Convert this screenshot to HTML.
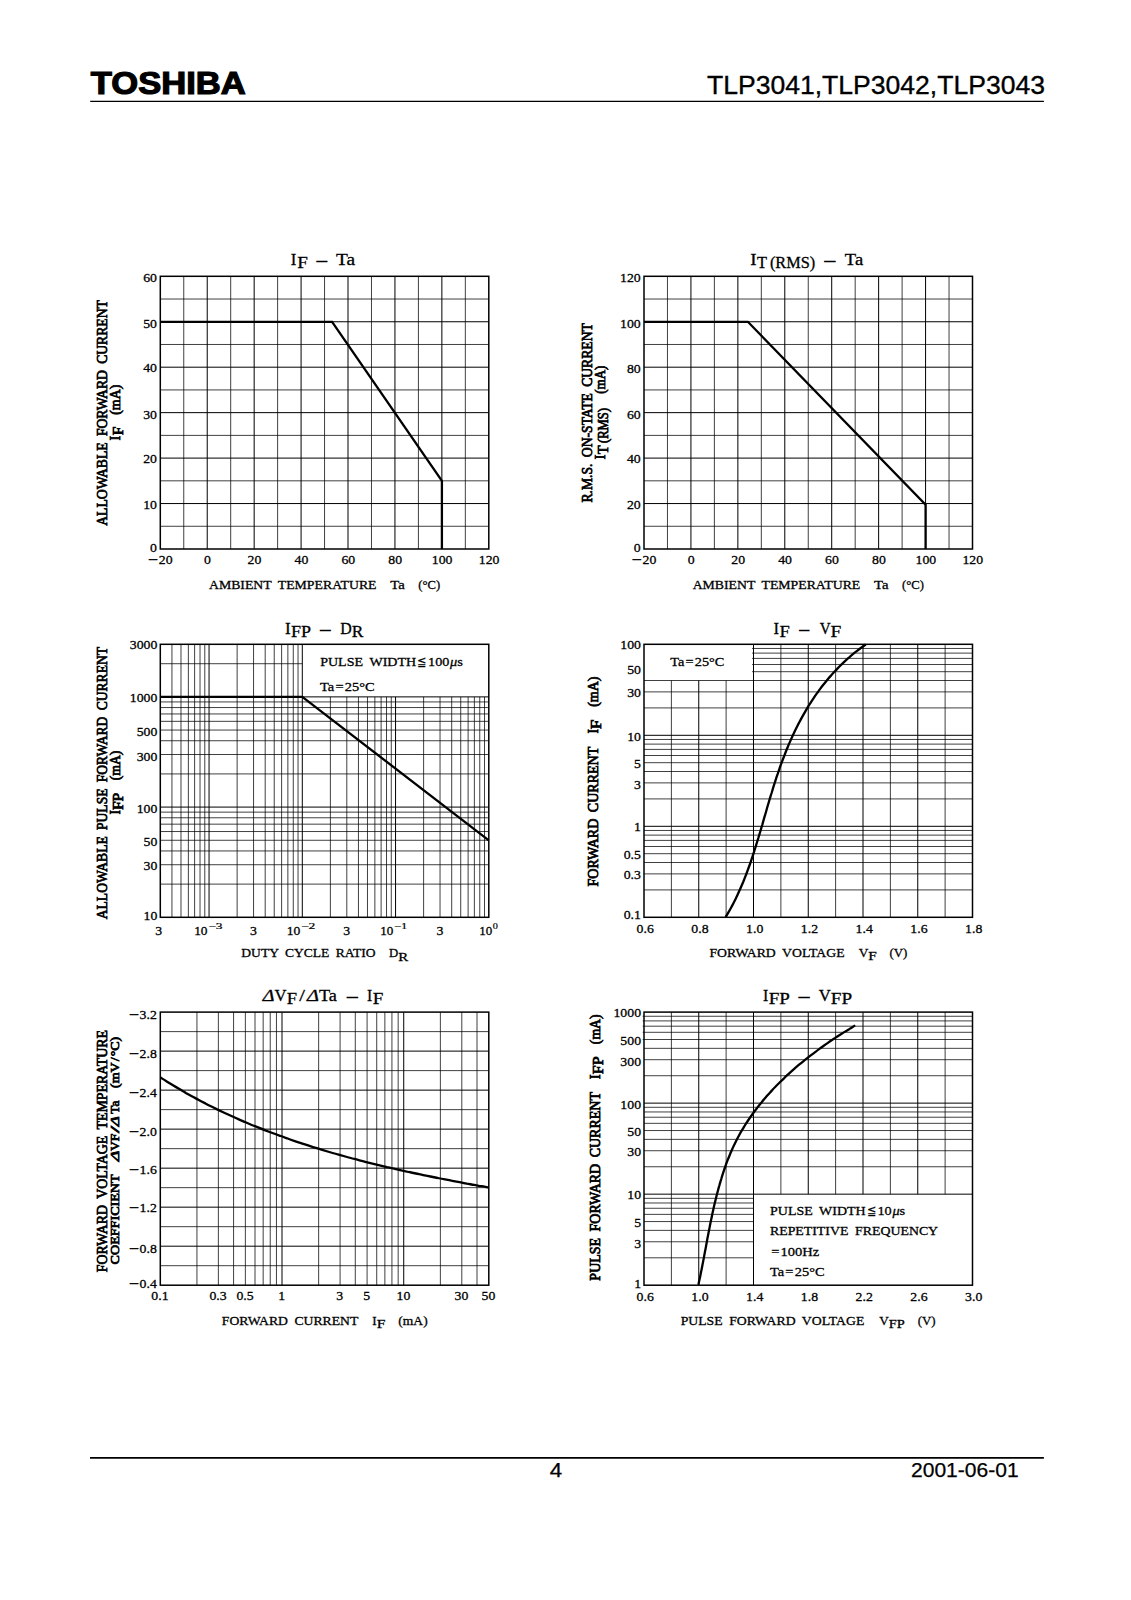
<!DOCTYPE html>
<html><head><meta charset="utf-8"><title>TLP3041,TLP3042,TLP3043</title>
<style>html,body{margin:0;padding:0;background:#fff}svg{display:block}text{fill:#000}</style></head>
<body><svg width="1131" height="1600" viewBox="0 0 1131 1600">
<rect width="1131" height="1600" fill="#fff"/>
<text x="90.80" y="93.65" font-family='"Liberation Sans", sans-serif' font-size="31.2" font-weight="bold" stroke="#000" stroke-width="1.2" textLength="155.00" lengthAdjust="spacingAndGlyphs">TOSHIBA</text>
<text x="707.00" y="93.80" font-family='"Liberation Sans", sans-serif' font-size="26.6" stroke="#000" stroke-width="0.35" textLength="338.00" lengthAdjust="spacingAndGlyphs">TLP3041,TLP3042,TLP3043</text>
<line x1="90.20" y1="101.30" x2="1043.90" y2="101.30" stroke="#000" stroke-width="1.3"/>
<line x1="90.00" y1="1457.80" x2="1043.90" y2="1457.80" stroke="#000" stroke-width="1.7"/>
<text x="549.80" y="1476.80" font-family='"Liberation Sans", sans-serif' font-size="20" stroke="#000" stroke-width="0.25" textLength="12.40" lengthAdjust="spacingAndGlyphs">4</text>
<text x="911.00" y="1476.80" font-family='"Liberation Sans", sans-serif' font-size="20" stroke="#000" stroke-width="0.25" textLength="107.60" lengthAdjust="spacingAndGlyphs">2001-06-01</text>
<line x1="183.76" y1="276.30" x2="183.76" y2="549.00" stroke="#000" stroke-width="0.75"/>
<line x1="207.23" y1="276.30" x2="207.23" y2="549.00" stroke="#000" stroke-width="1.0"/>
<line x1="230.69" y1="276.30" x2="230.69" y2="549.00" stroke="#000" stroke-width="0.75"/>
<line x1="254.16" y1="276.30" x2="254.16" y2="549.00" stroke="#000" stroke-width="1.0"/>
<line x1="277.62" y1="276.30" x2="277.62" y2="549.00" stroke="#000" stroke-width="0.75"/>
<line x1="301.09" y1="276.30" x2="301.09" y2="549.00" stroke="#000" stroke-width="1.0"/>
<line x1="324.55" y1="276.30" x2="324.55" y2="549.00" stroke="#000" stroke-width="0.75"/>
<line x1="348.01" y1="276.30" x2="348.01" y2="549.00" stroke="#000" stroke-width="1.0"/>
<line x1="371.48" y1="276.30" x2="371.48" y2="549.00" stroke="#000" stroke-width="0.75"/>
<line x1="394.94" y1="276.30" x2="394.94" y2="549.00" stroke="#000" stroke-width="1.0"/>
<line x1="418.41" y1="276.30" x2="418.41" y2="549.00" stroke="#000" stroke-width="0.75"/>
<line x1="441.87" y1="276.30" x2="441.87" y2="549.00" stroke="#000" stroke-width="1.0"/>
<line x1="465.34" y1="276.30" x2="465.34" y2="549.00" stroke="#000" stroke-width="0.75"/>
<line x1="160.30" y1="526.27" x2="488.80" y2="526.27" stroke="#000" stroke-width="0.75"/>
<line x1="160.30" y1="503.55" x2="488.80" y2="503.55" stroke="#000" stroke-width="1.0"/>
<line x1="160.30" y1="480.82" x2="488.80" y2="480.82" stroke="#000" stroke-width="0.75"/>
<line x1="160.30" y1="458.10" x2="488.80" y2="458.10" stroke="#000" stroke-width="1.0"/>
<line x1="160.30" y1="435.38" x2="488.80" y2="435.38" stroke="#000" stroke-width="0.75"/>
<line x1="160.30" y1="412.65" x2="488.80" y2="412.65" stroke="#000" stroke-width="1.0"/>
<line x1="160.30" y1="389.93" x2="488.80" y2="389.93" stroke="#000" stroke-width="0.75"/>
<line x1="160.30" y1="367.20" x2="488.80" y2="367.20" stroke="#000" stroke-width="1.0"/>
<line x1="160.30" y1="344.48" x2="488.80" y2="344.48" stroke="#000" stroke-width="0.75"/>
<line x1="160.30" y1="321.75" x2="488.80" y2="321.75" stroke="#000" stroke-width="1.0"/>
<line x1="160.30" y1="299.02" x2="488.80" y2="299.02" stroke="#000" stroke-width="0.75"/>
<rect x="160.30" y="276.30" width="328.50" height="272.70" fill="none" stroke="#000" stroke-width="1.5"/>
<polyline fill="none" stroke="#000" stroke-width="2.3" stroke-linejoin="miter" points="160.3,321.8 332.1,321.8 441.9,480.8 441.9,549.0"/>
<text x="143.16" y="282.35" font-family='"Liberation Serif", serif' font-size="13.2" stroke="#000" stroke-width="0.3" textLength="13.79" lengthAdjust="spacingAndGlyphs">60</text>
<text x="143.16" y="327.80" font-family='"Liberation Serif", serif' font-size="13.2" stroke="#000" stroke-width="0.3" textLength="13.79" lengthAdjust="spacingAndGlyphs">50</text>
<text x="143.16" y="371.95" font-family='"Liberation Serif", serif' font-size="13.2" stroke="#000" stroke-width="0.3" textLength="13.79" lengthAdjust="spacingAndGlyphs">40</text>
<text x="143.16" y="418.50" font-family='"Liberation Serif", serif' font-size="13.2" stroke="#000" stroke-width="0.3" textLength="13.79" lengthAdjust="spacingAndGlyphs">30</text>
<text x="143.16" y="463.45" font-family='"Liberation Serif", serif' font-size="13.2" stroke="#000" stroke-width="0.3" textLength="13.79" lengthAdjust="spacingAndGlyphs">20</text>
<text x="143.16" y="508.60" font-family='"Liberation Serif", serif' font-size="13.2" stroke="#000" stroke-width="0.3" textLength="13.79" lengthAdjust="spacingAndGlyphs">10</text>
<text x="150.05" y="552.05" font-family='"Liberation Serif", serif' font-size="13.2" stroke="#000" stroke-width="0.3" textLength="6.90" lengthAdjust="spacingAndGlyphs">0</text>
<text x="148.09" y="563.60" font-family='"Liberation Serif", serif' font-size="13.2" stroke="#000" stroke-width="0.55" textLength="9.72" lengthAdjust="spacingAndGlyphs">−</text>
<text x="158.80" y="563.60" font-family='"Liberation Serif", serif' font-size="13.2" stroke="#000" stroke-width="0.3" textLength="13.79" lengthAdjust="spacingAndGlyphs">20</text>
<text x="204.08" y="563.60" font-family='"Liberation Serif", serif' font-size="13.2" stroke="#000" stroke-width="0.3" textLength="6.90" lengthAdjust="spacingAndGlyphs">0</text>
<text x="247.56" y="563.60" font-family='"Liberation Serif", serif' font-size="13.2" stroke="#000" stroke-width="0.3" textLength="13.79" lengthAdjust="spacingAndGlyphs">20</text>
<text x="294.49" y="563.60" font-family='"Liberation Serif", serif' font-size="13.2" stroke="#000" stroke-width="0.3" textLength="13.79" lengthAdjust="spacingAndGlyphs">40</text>
<text x="341.42" y="563.60" font-family='"Liberation Serif", serif' font-size="13.2" stroke="#000" stroke-width="0.3" textLength="13.79" lengthAdjust="spacingAndGlyphs">60</text>
<text x="388.35" y="563.60" font-family='"Liberation Serif", serif' font-size="13.2" stroke="#000" stroke-width="0.3" textLength="13.79" lengthAdjust="spacingAndGlyphs">80</text>
<text x="431.83" y="563.60" font-family='"Liberation Serif", serif' font-size="13.2" stroke="#000" stroke-width="0.3" textLength="20.69" lengthAdjust="spacingAndGlyphs">100</text>
<text x="478.75" y="563.60" font-family='"Liberation Serif", serif' font-size="13.2" stroke="#000" stroke-width="0.3" textLength="20.69" lengthAdjust="spacingAndGlyphs">120</text>
<text x="290.85" y="264.90" font-family='"Liberation Serif", serif' font-size="16.6" stroke="#000" stroke-width="0.3" textLength="5.60" lengthAdjust="spacingAndGlyphs">I</text>
<text x="297.15" y="267.90" font-family='"Liberation Serif", serif' font-size="16.6" stroke="#000" stroke-width="0.3" textLength="10.60" lengthAdjust="spacingAndGlyphs">F</text>
<text x="315.60" y="266.82" font-family='"Liberation Serif", serif' font-size="16.6" stroke="#000" stroke-width="0.65" textLength="12.40" lengthAdjust="spacingAndGlyphs">−</text>
<text x="336.05" y="264.90" font-family='"Liberation Serif", serif' font-size="16.6" stroke="#000" stroke-width="0.3" textLength="19.10" lengthAdjust="spacingAndGlyphs">Ta</text>
<text x="208.95" y="588.70" font-family='"Liberation Serif", serif' font-size="13.2" stroke="#000" stroke-width="0.3" style="word-spacing:3.00px" textLength="167.60" lengthAdjust="spacingAndGlyphs">AMBIENT TEMPERATURE</text>
<text x="390.35" y="588.70" font-family='"Liberation Serif", serif' font-size="13.2" stroke="#000" stroke-width="0.3" textLength="14.50" lengthAdjust="spacingAndGlyphs">Ta</text>
<text x="418.35" y="588.70" font-family='"Liberation Serif", serif' font-size="13.2" stroke="#000" stroke-width="0.3" textLength="21.90" lengthAdjust="spacingAndGlyphs">(°C)</text>
<text x="0.00" y="0" transform="translate(107.20,525.75) rotate(-90)" font-family='"Liberation Serif", serif' font-size="14.3" stroke="#000" stroke-width="0.75" style="word-spacing:3.00px" textLength="225.60" lengthAdjust="spacingAndGlyphs">ALLOWABLE FORWARD CURRENT</text>
<text x="0.00" y="0" transform="translate(119.60,440.45) rotate(-90)" font-family='"Liberation Serif", serif' font-size="14.3" stroke="#000" stroke-width="0.75" textLength="4.60" lengthAdjust="spacingAndGlyphs">I</text>
<text x="0.00" y="0" transform="translate(122.80,435.35) rotate(-90)" font-family='"Liberation Serif", serif' font-size="14.3" stroke="#000" stroke-width="0.75" textLength="8.70" lengthAdjust="spacingAndGlyphs">F</text>
<text x="0.00" y="0" transform="translate(119.60,414.75) rotate(-90)" font-family='"Liberation Serif", serif' font-size="14.3" stroke="#000" stroke-width="0.75" textLength="30.00" lengthAdjust="spacingAndGlyphs">(mA)</text>
<line x1="667.46" y1="276.30" x2="667.46" y2="549.00" stroke="#000" stroke-width="0.75"/>
<line x1="690.93" y1="276.30" x2="690.93" y2="549.00" stroke="#000" stroke-width="1.0"/>
<line x1="714.39" y1="276.30" x2="714.39" y2="549.00" stroke="#000" stroke-width="0.75"/>
<line x1="737.86" y1="276.30" x2="737.86" y2="549.00" stroke="#000" stroke-width="1.0"/>
<line x1="761.32" y1="276.30" x2="761.32" y2="549.00" stroke="#000" stroke-width="0.75"/>
<line x1="784.79" y1="276.30" x2="784.79" y2="549.00" stroke="#000" stroke-width="1.0"/>
<line x1="808.25" y1="276.30" x2="808.25" y2="549.00" stroke="#000" stroke-width="0.75"/>
<line x1="831.71" y1="276.30" x2="831.71" y2="549.00" stroke="#000" stroke-width="1.0"/>
<line x1="855.18" y1="276.30" x2="855.18" y2="549.00" stroke="#000" stroke-width="0.75"/>
<line x1="878.64" y1="276.30" x2="878.64" y2="549.00" stroke="#000" stroke-width="1.0"/>
<line x1="902.11" y1="276.30" x2="902.11" y2="549.00" stroke="#000" stroke-width="0.75"/>
<line x1="925.57" y1="276.30" x2="925.57" y2="549.00" stroke="#000" stroke-width="1.0"/>
<line x1="949.04" y1="276.30" x2="949.04" y2="549.00" stroke="#000" stroke-width="0.75"/>
<line x1="644.00" y1="526.27" x2="972.50" y2="526.27" stroke="#000" stroke-width="0.75"/>
<line x1="644.00" y1="503.55" x2="972.50" y2="503.55" stroke="#000" stroke-width="1.0"/>
<line x1="644.00" y1="480.82" x2="972.50" y2="480.82" stroke="#000" stroke-width="0.75"/>
<line x1="644.00" y1="458.10" x2="972.50" y2="458.10" stroke="#000" stroke-width="1.0"/>
<line x1="644.00" y1="435.38" x2="972.50" y2="435.38" stroke="#000" stroke-width="0.75"/>
<line x1="644.00" y1="412.65" x2="972.50" y2="412.65" stroke="#000" stroke-width="1.0"/>
<line x1="644.00" y1="389.93" x2="972.50" y2="389.93" stroke="#000" stroke-width="0.75"/>
<line x1="644.00" y1="367.20" x2="972.50" y2="367.20" stroke="#000" stroke-width="1.0"/>
<line x1="644.00" y1="344.48" x2="972.50" y2="344.48" stroke="#000" stroke-width="0.75"/>
<line x1="644.00" y1="321.75" x2="972.50" y2="321.75" stroke="#000" stroke-width="1.0"/>
<line x1="644.00" y1="299.02" x2="972.50" y2="299.02" stroke="#000" stroke-width="0.75"/>
<rect x="644.00" y="276.30" width="328.50" height="272.70" fill="none" stroke="#000" stroke-width="1.5"/>
<polyline fill="none" stroke="#000" stroke-width="2.3" stroke-linejoin="miter" points="644.0,321.8 747.9,321.8 925.6,504.7 925.6,549.0"/>
<text x="620.06" y="282.35" font-family='"Liberation Serif", serif' font-size="13.2" stroke="#000" stroke-width="0.3" textLength="20.69" lengthAdjust="spacingAndGlyphs">120</text>
<text x="620.06" y="327.60" font-family='"Liberation Serif", serif' font-size="13.2" stroke="#000" stroke-width="0.3" textLength="20.69" lengthAdjust="spacingAndGlyphs">100</text>
<text x="626.96" y="373.25" font-family='"Liberation Serif", serif' font-size="13.2" stroke="#000" stroke-width="0.3" textLength="13.79" lengthAdjust="spacingAndGlyphs">80</text>
<text x="626.96" y="418.50" font-family='"Liberation Serif", serif' font-size="13.2" stroke="#000" stroke-width="0.3" textLength="13.79" lengthAdjust="spacingAndGlyphs">60</text>
<text x="626.96" y="463.45" font-family='"Liberation Serif", serif' font-size="13.2" stroke="#000" stroke-width="0.3" textLength="13.79" lengthAdjust="spacingAndGlyphs">40</text>
<text x="626.96" y="508.60" font-family='"Liberation Serif", serif' font-size="13.2" stroke="#000" stroke-width="0.3" textLength="13.79" lengthAdjust="spacingAndGlyphs">20</text>
<text x="633.85" y="552.05" font-family='"Liberation Serif", serif' font-size="13.2" stroke="#000" stroke-width="0.3" textLength="6.90" lengthAdjust="spacingAndGlyphs">0</text>
<text x="631.79" y="563.60" font-family='"Liberation Serif", serif' font-size="13.2" stroke="#000" stroke-width="0.55" textLength="9.72" lengthAdjust="spacingAndGlyphs">−</text>
<text x="642.50" y="563.60" font-family='"Liberation Serif", serif' font-size="13.2" stroke="#000" stroke-width="0.3" textLength="13.79" lengthAdjust="spacingAndGlyphs">20</text>
<text x="687.78" y="563.60" font-family='"Liberation Serif", serif' font-size="13.2" stroke="#000" stroke-width="0.3" textLength="6.90" lengthAdjust="spacingAndGlyphs">0</text>
<text x="731.26" y="563.60" font-family='"Liberation Serif", serif' font-size="13.2" stroke="#000" stroke-width="0.3" textLength="13.79" lengthAdjust="spacingAndGlyphs">20</text>
<text x="778.19" y="563.60" font-family='"Liberation Serif", serif' font-size="13.2" stroke="#000" stroke-width="0.3" textLength="13.79" lengthAdjust="spacingAndGlyphs">40</text>
<text x="825.12" y="563.60" font-family='"Liberation Serif", serif' font-size="13.2" stroke="#000" stroke-width="0.3" textLength="13.79" lengthAdjust="spacingAndGlyphs">60</text>
<text x="872.05" y="563.60" font-family='"Liberation Serif", serif' font-size="13.2" stroke="#000" stroke-width="0.3" textLength="13.79" lengthAdjust="spacingAndGlyphs">80</text>
<text x="915.53" y="563.60" font-family='"Liberation Serif", serif' font-size="13.2" stroke="#000" stroke-width="0.3" textLength="20.69" lengthAdjust="spacingAndGlyphs">100</text>
<text x="962.45" y="563.60" font-family='"Liberation Serif", serif' font-size="13.2" stroke="#000" stroke-width="0.3" textLength="20.69" lengthAdjust="spacingAndGlyphs">120</text>
<text x="750.15" y="264.80" font-family='"Liberation Serif", serif' font-size="16.6" stroke="#000" stroke-width="0.3" textLength="6.30" lengthAdjust="spacingAndGlyphs">I</text>
<text x="756.95" y="267.90" font-family='"Liberation Serif", serif' font-size="16.6" stroke="#000" stroke-width="0.3" textLength="10.00" lengthAdjust="spacingAndGlyphs">T</text>
<text x="769.95" y="267.90" font-family='"Liberation Serif", serif' font-size="16.6" stroke="#000" stroke-width="0.3" textLength="45.30" lengthAdjust="spacingAndGlyphs">(RMS)</text>
<text x="823.36" y="266.72" font-family='"Liberation Serif", serif' font-size="16.6" stroke="#000" stroke-width="0.65" textLength="12.88" lengthAdjust="spacingAndGlyphs">−</text>
<text x="844.85" y="264.80" font-family='"Liberation Serif", serif' font-size="16.6" stroke="#000" stroke-width="0.3" textLength="18.30" lengthAdjust="spacingAndGlyphs">Ta</text>
<text x="692.65" y="588.70" font-family='"Liberation Serif", serif' font-size="13.2" stroke="#000" stroke-width="0.3" style="word-spacing:3.00px" textLength="167.60" lengthAdjust="spacingAndGlyphs">AMBIENT TEMPERATURE</text>
<text x="874.05" y="588.70" font-family='"Liberation Serif", serif' font-size="13.2" stroke="#000" stroke-width="0.3" textLength="14.50" lengthAdjust="spacingAndGlyphs">Ta</text>
<text x="902.05" y="588.70" font-family='"Liberation Serif", serif' font-size="13.2" stroke="#000" stroke-width="0.3" textLength="21.90" lengthAdjust="spacingAndGlyphs">(°C)</text>
<text x="0.00" y="0" transform="translate(592.10,502.55) rotate(-90)" font-family='"Liberation Serif", serif' font-size="14.3" stroke="#000" stroke-width="0.75" style="word-spacing:3.00px" textLength="179.40" lengthAdjust="spacingAndGlyphs">R.M.S. ON-STATE CURRENT</text>
<text x="0.00" y="0" transform="translate(604.60,459.45) rotate(-90)" font-family='"Liberation Serif", serif' font-size="14.3" stroke="#000" stroke-width="0.75" textLength="4.90" lengthAdjust="spacingAndGlyphs">I</text>
<text x="0.00" y="0" transform="translate(607.70,454.25) rotate(-90)" font-family='"Liberation Serif", serif' font-size="14.3" stroke="#000" stroke-width="0.75" textLength="8.90" lengthAdjust="spacingAndGlyphs">T</text>
<text x="0.00" y="0" transform="translate(607.70,443.05) rotate(-90)" font-family='"Liberation Serif", serif' font-size="14.3" stroke="#000" stroke-width="0.75" textLength="35.10" lengthAdjust="spacingAndGlyphs">(RMS)</text>
<text x="0.00" y="0" transform="translate(604.60,393.85) rotate(-90)" font-family='"Liberation Serif", serif' font-size="14.3" stroke="#000" stroke-width="0.75" textLength="28.30" lengthAdjust="spacingAndGlyphs">(mA)</text>
<line x1="171.95" y1="644.30" x2="171.95" y2="917.30" stroke="#000" stroke-width="0.75"/>
<line x1="180.99" y1="644.30" x2="180.99" y2="917.30" stroke="#000" stroke-width="0.75"/>
<line x1="188.37" y1="644.30" x2="188.37" y2="917.30" stroke="#000" stroke-width="0.75"/>
<line x1="194.61" y1="644.30" x2="194.61" y2="917.30" stroke="#000" stroke-width="0.75"/>
<line x1="200.02" y1="644.30" x2="200.02" y2="917.30" stroke="#000" stroke-width="0.75"/>
<line x1="204.79" y1="644.30" x2="204.79" y2="917.30" stroke="#000" stroke-width="0.75"/>
<line x1="209.06" y1="644.30" x2="209.06" y2="917.30" stroke="#000" stroke-width="1.0"/>
<line x1="237.13" y1="644.30" x2="237.13" y2="917.30" stroke="#000" stroke-width="0.75"/>
<line x1="253.55" y1="644.30" x2="253.55" y2="917.30" stroke="#000" stroke-width="0.75"/>
<line x1="265.20" y1="644.30" x2="265.20" y2="917.30" stroke="#000" stroke-width="0.75"/>
<line x1="274.23" y1="644.30" x2="274.23" y2="917.30" stroke="#000" stroke-width="0.75"/>
<line x1="281.62" y1="644.30" x2="281.62" y2="917.30" stroke="#000" stroke-width="0.75"/>
<line x1="287.86" y1="644.30" x2="287.86" y2="917.30" stroke="#000" stroke-width="0.75"/>
<line x1="293.27" y1="644.30" x2="293.27" y2="917.30" stroke="#000" stroke-width="0.75"/>
<line x1="298.04" y1="644.30" x2="298.04" y2="917.30" stroke="#000" stroke-width="0.75"/>
<line x1="302.30" y1="644.30" x2="302.30" y2="917.30" stroke="#000" stroke-width="1.0"/>
<line x1="330.38" y1="696.88" x2="330.38" y2="917.30" stroke="#000" stroke-width="0.75"/>
<line x1="346.80" y1="696.88" x2="346.80" y2="917.30" stroke="#000" stroke-width="0.75"/>
<line x1="358.45" y1="696.88" x2="358.45" y2="917.30" stroke="#000" stroke-width="0.75"/>
<line x1="367.48" y1="696.88" x2="367.48" y2="917.30" stroke="#000" stroke-width="0.75"/>
<line x1="374.87" y1="696.88" x2="374.87" y2="917.30" stroke="#000" stroke-width="0.75"/>
<line x1="381.11" y1="696.88" x2="381.11" y2="917.30" stroke="#000" stroke-width="0.75"/>
<line x1="386.52" y1="696.88" x2="386.52" y2="917.30" stroke="#000" stroke-width="0.75"/>
<line x1="391.29" y1="696.88" x2="391.29" y2="917.30" stroke="#000" stroke-width="0.75"/>
<line x1="395.55" y1="696.88" x2="395.55" y2="917.30" stroke="#000" stroke-width="1.0"/>
<line x1="423.62" y1="696.88" x2="423.62" y2="917.30" stroke="#000" stroke-width="0.75"/>
<line x1="440.04" y1="696.88" x2="440.04" y2="917.30" stroke="#000" stroke-width="0.75"/>
<line x1="451.69" y1="696.88" x2="451.69" y2="917.30" stroke="#000" stroke-width="0.75"/>
<line x1="460.73" y1="696.88" x2="460.73" y2="917.30" stroke="#000" stroke-width="0.75"/>
<line x1="468.11" y1="696.88" x2="468.11" y2="917.30" stroke="#000" stroke-width="0.75"/>
<line x1="474.36" y1="696.88" x2="474.36" y2="917.30" stroke="#000" stroke-width="0.75"/>
<line x1="479.76" y1="696.88" x2="479.76" y2="917.30" stroke="#000" stroke-width="0.75"/>
<line x1="484.53" y1="696.88" x2="484.53" y2="917.30" stroke="#000" stroke-width="0.75"/>
<line x1="160.30" y1="884.12" x2="488.80" y2="884.12" stroke="#000" stroke-width="0.75"/>
<line x1="160.30" y1="864.72" x2="488.80" y2="864.72" stroke="#000" stroke-width="0.75"/>
<line x1="160.30" y1="850.95" x2="488.80" y2="850.95" stroke="#000" stroke-width="0.75"/>
<line x1="160.30" y1="840.27" x2="488.80" y2="840.27" stroke="#000" stroke-width="0.75"/>
<line x1="160.30" y1="831.54" x2="488.80" y2="831.54" stroke="#000" stroke-width="0.75"/>
<line x1="160.30" y1="824.16" x2="488.80" y2="824.16" stroke="#000" stroke-width="0.75"/>
<line x1="160.30" y1="817.77" x2="488.80" y2="817.77" stroke="#000" stroke-width="0.75"/>
<line x1="160.30" y1="812.13" x2="488.80" y2="812.13" stroke="#000" stroke-width="0.75"/>
<line x1="160.30" y1="807.09" x2="488.80" y2="807.09" stroke="#000" stroke-width="1.0"/>
<line x1="160.30" y1="773.92" x2="488.80" y2="773.92" stroke="#000" stroke-width="0.75"/>
<line x1="160.30" y1="754.51" x2="488.80" y2="754.51" stroke="#000" stroke-width="0.75"/>
<line x1="160.30" y1="740.74" x2="488.80" y2="740.74" stroke="#000" stroke-width="0.75"/>
<line x1="160.30" y1="730.06" x2="488.80" y2="730.06" stroke="#000" stroke-width="0.75"/>
<line x1="160.30" y1="721.33" x2="488.80" y2="721.33" stroke="#000" stroke-width="0.75"/>
<line x1="160.30" y1="713.95" x2="488.80" y2="713.95" stroke="#000" stroke-width="0.75"/>
<line x1="160.30" y1="707.56" x2="488.80" y2="707.56" stroke="#000" stroke-width="0.75"/>
<line x1="160.30" y1="701.93" x2="488.80" y2="701.93" stroke="#000" stroke-width="0.75"/>
<line x1="160.30" y1="696.88" x2="488.80" y2="696.88" stroke="#000" stroke-width="1.0"/>
<line x1="160.30" y1="663.71" x2="302.30" y2="663.71" stroke="#000" stroke-width="0.75"/>
<rect x="160.30" y="644.30" width="328.50" height="273.00" fill="none" stroke="#000" stroke-width="1.5"/>
<polyline fill="none" stroke="#000" stroke-width="2.3" stroke-linejoin="miter" points="160.3,696.9 302.3,696.9 488.8,840.3"/>
<text x="129.76" y="649.45" font-family='"Liberation Serif", serif' font-size="13.2" stroke="#000" stroke-width="0.3" textLength="27.59" lengthAdjust="spacingAndGlyphs">3000</text>
<text x="129.76" y="702.43" font-family='"Liberation Serif", serif' font-size="13.2" stroke="#000" stroke-width="0.3" textLength="27.59" lengthAdjust="spacingAndGlyphs">1000</text>
<text x="136.66" y="736.41" font-family='"Liberation Serif", serif' font-size="13.2" stroke="#000" stroke-width="0.3" textLength="20.69" lengthAdjust="spacingAndGlyphs">500</text>
<text x="136.66" y="760.56" font-family='"Liberation Serif", serif' font-size="13.2" stroke="#000" stroke-width="0.3" textLength="20.69" lengthAdjust="spacingAndGlyphs">300</text>
<text x="136.66" y="812.64" font-family='"Liberation Serif", serif' font-size="13.2" stroke="#000" stroke-width="0.3" textLength="20.69" lengthAdjust="spacingAndGlyphs">100</text>
<text x="143.56" y="845.82" font-family='"Liberation Serif", serif' font-size="13.2" stroke="#000" stroke-width="0.3" textLength="13.79" lengthAdjust="spacingAndGlyphs">50</text>
<text x="143.56" y="870.07" font-family='"Liberation Serif", serif' font-size="13.2" stroke="#000" stroke-width="0.3" textLength="13.79" lengthAdjust="spacingAndGlyphs">30</text>
<text x="143.56" y="919.55" font-family='"Liberation Serif", serif' font-size="13.2" stroke="#000" stroke-width="0.3" textLength="13.79" lengthAdjust="spacingAndGlyphs">10</text>
<text x="155.25" y="934.50" font-family='"Liberation Serif", serif' font-size="13.2" stroke="#000" stroke-width="0.3" textLength="6.90" lengthAdjust="spacingAndGlyphs">3</text>
<text x="250.10" y="934.50" font-family='"Liberation Serif", serif' font-size="13.2" stroke="#000" stroke-width="0.3" textLength="6.90" lengthAdjust="spacingAndGlyphs">3</text>
<text x="343.35" y="934.50" font-family='"Liberation Serif", serif' font-size="13.2" stroke="#000" stroke-width="0.3" textLength="6.90" lengthAdjust="spacingAndGlyphs">3</text>
<text x="436.59" y="934.50" font-family='"Liberation Serif", serif' font-size="13.2" stroke="#000" stroke-width="0.3" textLength="6.90" lengthAdjust="spacingAndGlyphs">3</text>
<text x="194.15" y="934.50" font-family='"Liberation Serif", serif' font-size="13.2" stroke="#000" stroke-width="0.3" textLength="13.40" lengthAdjust="spacingAndGlyphs">10</text>
<text x="208.25" y="928.90" font-family='"Liberation Serif", serif' font-size="9.0" stroke="#000" stroke-width="0.2" textLength="14.30" lengthAdjust="spacingAndGlyphs">−3</text>
<text x="286.75" y="934.50" font-family='"Liberation Serif", serif' font-size="13.2" stroke="#000" stroke-width="0.3" textLength="13.60" lengthAdjust="spacingAndGlyphs">10</text>
<text x="300.95" y="928.90" font-family='"Liberation Serif", serif' font-size="9.0" stroke="#000" stroke-width="0.2" textLength="14.50" lengthAdjust="spacingAndGlyphs">−2</text>
<text x="380.15" y="934.50" font-family='"Liberation Serif", serif' font-size="13.2" stroke="#000" stroke-width="0.3" textLength="13.10" lengthAdjust="spacingAndGlyphs">10</text>
<text x="393.95" y="928.90" font-family='"Liberation Serif", serif' font-size="9.0" stroke="#000" stroke-width="0.2" textLength="13.40" lengthAdjust="spacingAndGlyphs">−1</text>
<text x="479.35" y="934.50" font-family='"Liberation Serif", serif' font-size="13.2" stroke="#000" stroke-width="0.3" textLength="13.00" lengthAdjust="spacingAndGlyphs">10</text>
<text x="492.65" y="928.90" font-family='"Liberation Serif", serif' font-size="9.0" stroke="#000" stroke-width="0.2" textLength="5.10" lengthAdjust="spacingAndGlyphs">0</text>
<text x="284.95" y="633.70" font-family='"Liberation Serif", serif' font-size="16.6" stroke="#000" stroke-width="0.3" textLength="5.70" lengthAdjust="spacingAndGlyphs">I</text>
<text x="291.05" y="636.80" font-family='"Liberation Serif", serif' font-size="16.6" stroke="#000" stroke-width="0.3" textLength="20.00" lengthAdjust="spacingAndGlyphs">FP</text>
<text x="319.10" y="636.42" font-family='"Liberation Serif", serif' font-size="16.6" stroke="#000" stroke-width="0.65" textLength="12.40" lengthAdjust="spacingAndGlyphs">−</text>
<text x="340.25" y="633.70" font-family='"Liberation Serif", serif' font-size="16.6" stroke="#000" stroke-width="0.3" textLength="11.50" lengthAdjust="spacingAndGlyphs">D</text>
<text x="351.65" y="636.80" font-family='"Liberation Serif", serif' font-size="16.6" stroke="#000" stroke-width="0.3" textLength="11.60" lengthAdjust="spacingAndGlyphs">R</text>
<text x="241.35" y="957.40" font-family='"Liberation Serif", serif' font-size="13.2" stroke="#000" stroke-width="0.3" style="word-spacing:3.00px" textLength="134.20" lengthAdjust="spacingAndGlyphs">DUTY CYCLE RATIO</text>
<text x="388.95" y="957.40" font-family='"Liberation Serif", serif' font-size="13.2" stroke="#000" stroke-width="0.3" textLength="9.20" lengthAdjust="spacingAndGlyphs">D</text>
<text x="398.35" y="960.60" font-family='"Liberation Serif", serif' font-size="13.2" stroke="#000" stroke-width="0.3" textLength="9.90" lengthAdjust="spacingAndGlyphs">R</text>
<text x="320.20" y="665.80" font-family='"Liberation Serif", serif' font-size="13.2" stroke="#000" stroke-width="0.3" style="word-spacing:3.00px" textLength="95.93" lengthAdjust="spacingAndGlyphs">PULSE WIDTH</text>
<text x="417.13" y="665.80" font-family='"Liberation Serif", serif' font-size="13.2" stroke="#000" stroke-width="0.15" textLength="9.51" lengthAdjust="spacingAndGlyphs">≦</text>
<text x="428.04" y="665.80" font-family='"Liberation Serif", serif' font-size="13.2" stroke="#000" stroke-width="0.3" textLength="21.33" lengthAdjust="spacingAndGlyphs">100</text>
<text x="450.07" y="665.80" font-family='"Liberation Serif", serif' font-size="13.2" font-style="italic" stroke="#000" stroke-width="0.3" textLength="7.20" lengthAdjust="spacingAndGlyphs">μ</text>
<text x="457.27" y="665.80" font-family='"Liberation Serif", serif' font-size="13.2" stroke="#000" stroke-width="0.3" textLength="5.63" lengthAdjust="spacingAndGlyphs">s</text>
<text x="320.05" y="691.30" font-family='"Liberation Serif", serif' font-size="13.2" stroke="#000" stroke-width="0.3" textLength="54.60" lengthAdjust="spacingAndGlyphs">Ta = 25°C</text>
<text x="0.00" y="0" transform="translate(107.20,919.25) rotate(-90)" font-family='"Liberation Serif", serif' font-size="14.3" stroke="#000" stroke-width="0.75" style="word-spacing:3.00px" textLength="272.30" lengthAdjust="spacingAndGlyphs">ALLOWABLE PULSE FORWARD CURRENT</text>
<text x="0.00" y="0" transform="translate(119.50,814.60) rotate(-90)" font-family='"Liberation Serif", serif' font-size="14.3" stroke="#000" stroke-width="0.75" textLength="4.45" lengthAdjust="spacingAndGlyphs">I</text>
<text x="0.00" y="0" transform="translate(122.70,810.10) rotate(-90)" font-family='"Liberation Serif", serif' font-size="14.3" stroke="#000" stroke-width="0.75" textLength="17.45" lengthAdjust="spacingAndGlyphs">FP</text>
<text x="0.00" y="0" transform="translate(119.50,780.35) rotate(-90)" font-family='"Liberation Serif", serif' font-size="14.3" stroke="#000" stroke-width="0.75" textLength="29.70" lengthAdjust="spacingAndGlyphs">(mA)</text>
<line x1="671.38" y1="680.51" x2="671.38" y2="917.30" stroke="#000" stroke-width="0.75"/>
<line x1="698.75" y1="680.51" x2="698.75" y2="917.30" stroke="#000" stroke-width="1.0"/>
<line x1="726.12" y1="680.51" x2="726.12" y2="917.30" stroke="#000" stroke-width="0.75"/>
<line x1="753.50" y1="644.30" x2="753.50" y2="917.30" stroke="#000" stroke-width="1.0"/>
<line x1="780.88" y1="644.30" x2="780.88" y2="917.30" stroke="#000" stroke-width="0.75"/>
<line x1="808.25" y1="644.30" x2="808.25" y2="917.30" stroke="#000" stroke-width="1.0"/>
<line x1="835.62" y1="644.30" x2="835.62" y2="917.30" stroke="#000" stroke-width="0.75"/>
<line x1="863.00" y1="644.30" x2="863.00" y2="917.30" stroke="#000" stroke-width="1.0"/>
<line x1="890.38" y1="644.30" x2="890.38" y2="917.30" stroke="#000" stroke-width="0.75"/>
<line x1="917.75" y1="644.30" x2="917.75" y2="917.30" stroke="#000" stroke-width="1.0"/>
<line x1="945.12" y1="644.30" x2="945.12" y2="917.30" stroke="#000" stroke-width="0.75"/>
<line x1="644.00" y1="889.91" x2="972.50" y2="889.91" stroke="#000" stroke-width="0.75"/>
<line x1="644.00" y1="873.88" x2="972.50" y2="873.88" stroke="#000" stroke-width="0.75"/>
<line x1="644.00" y1="862.51" x2="972.50" y2="862.51" stroke="#000" stroke-width="0.75"/>
<line x1="644.00" y1="853.69" x2="972.50" y2="853.69" stroke="#000" stroke-width="0.75"/>
<line x1="644.00" y1="846.49" x2="972.50" y2="846.49" stroke="#000" stroke-width="0.75"/>
<line x1="644.00" y1="840.40" x2="972.50" y2="840.40" stroke="#000" stroke-width="0.75"/>
<line x1="644.00" y1="835.12" x2="972.50" y2="835.12" stroke="#000" stroke-width="0.75"/>
<line x1="644.00" y1="830.46" x2="972.50" y2="830.46" stroke="#000" stroke-width="0.75"/>
<line x1="644.00" y1="826.30" x2="972.50" y2="826.30" stroke="#000" stroke-width="1.0"/>
<line x1="644.00" y1="798.91" x2="972.50" y2="798.91" stroke="#000" stroke-width="0.75"/>
<line x1="644.00" y1="782.88" x2="972.50" y2="782.88" stroke="#000" stroke-width="0.75"/>
<line x1="644.00" y1="771.51" x2="972.50" y2="771.51" stroke="#000" stroke-width="0.75"/>
<line x1="644.00" y1="762.69" x2="972.50" y2="762.69" stroke="#000" stroke-width="0.75"/>
<line x1="644.00" y1="755.49" x2="972.50" y2="755.49" stroke="#000" stroke-width="0.75"/>
<line x1="644.00" y1="749.40" x2="972.50" y2="749.40" stroke="#000" stroke-width="0.75"/>
<line x1="644.00" y1="744.12" x2="972.50" y2="744.12" stroke="#000" stroke-width="0.75"/>
<line x1="644.00" y1="739.46" x2="972.50" y2="739.46" stroke="#000" stroke-width="0.75"/>
<line x1="644.00" y1="735.30" x2="972.50" y2="735.30" stroke="#000" stroke-width="1.0"/>
<line x1="644.00" y1="707.91" x2="972.50" y2="707.91" stroke="#000" stroke-width="0.75"/>
<line x1="644.00" y1="691.88" x2="972.50" y2="691.88" stroke="#000" stroke-width="0.75"/>
<line x1="644.00" y1="680.51" x2="972.50" y2="680.51" stroke="#000" stroke-width="0.75"/>
<line x1="752.10" y1="671.69" x2="972.50" y2="671.69" stroke="#000" stroke-width="0.75"/>
<line x1="752.10" y1="664.49" x2="972.50" y2="664.49" stroke="#000" stroke-width="0.75"/>
<line x1="752.10" y1="658.40" x2="972.50" y2="658.40" stroke="#000" stroke-width="0.75"/>
<line x1="752.10" y1="653.12" x2="972.50" y2="653.12" stroke="#000" stroke-width="0.75"/>
<line x1="752.10" y1="648.46" x2="972.50" y2="648.46" stroke="#000" stroke-width="0.75"/>
<rect x="644.00" y="644.30" width="328.50" height="273.00" fill="none" stroke="#000" stroke-width="1.5"/>
<path d="M725.6,917.1 C726.2,916.2 727.9,913.3 729.0,911.4 C730.1,909.5 731.1,907.6 732.2,905.6 C733.2,903.7 734.2,901.7 735.2,899.7 C736.1,897.8 737.1,895.8 738.0,893.8 C738.9,891.8 739.8,889.8 740.7,887.8 C741.6,885.8 742.4,883.7 743.3,881.7 C744.1,879.7 744.9,877.6 745.7,875.6 C746.5,873.5 747.3,871.5 748.0,869.4 C748.8,867.3 749.5,865.2 750.3,863.2 C751.0,861.1 751.7,859.0 752.4,856.9 C753.1,854.8 753.8,852.7 754.4,850.6 C755.1,848.5 755.8,846.3 756.4,844.2 C757.1,842.1 757.7,840.0 758.4,837.8 C759.0,835.7 759.7,833.6 760.3,831.5 C760.9,829.3 761.5,827.2 762.2,825.1 C762.8,822.9 763.4,820.8 764.0,818.6 C764.6,816.5 765.3,814.4 765.9,812.2 C766.5,810.1 767.1,807.9 767.7,805.8 C768.4,803.7 769.0,801.5 769.6,799.4 C770.3,797.3 770.9,795.1 771.6,793.0 C772.2,790.9 772.9,788.7 773.5,786.6 C774.2,784.5 774.9,782.4 775.6,780.2 C776.2,778.1 776.9,776.0 777.7,773.9 C778.4,771.8 779.1,769.7 779.8,767.6 C780.6,765.5 781.3,763.4 782.1,761.4 C782.9,759.3 783.7,757.2 784.5,755.2 C785.3,753.1 786.1,751.0 786.9,749.0 C787.8,746.9 788.6,744.9 789.5,742.9 C790.4,740.9 791.3,738.8 792.2,736.8 C793.1,734.8 794.1,732.8 795.0,730.8 C796.0,728.9 796.9,726.9 797.9,724.9 C798.9,723.0 800.0,721.0 801.0,719.1 C802.0,717.2 803.1,715.3 804.2,713.4 C805.3,711.5 806.4,709.6 807.5,707.7 C808.6,705.8 809.8,704.0 811.0,702.1 C812.2,700.3 813.4,698.5 814.6,696.6 C815.8,694.8 817.1,693.1 818.4,691.3 C819.7,689.5 821.0,687.8 822.3,686.0 C823.6,684.3 825.0,682.6 826.4,680.9 C827.8,679.2 829.2,677.5 830.7,675.9 C832.1,674.2 833.6,672.6 835.1,671.0 C836.6,669.3 838.2,667.8 839.7,666.2 C841.3,664.6 842.9,663.1 844.5,661.6 C846.2,660.0 847.8,658.5 849.5,657.1 C851.2,655.6 853.0,654.1 854.7,652.7 C856.5,651.3 858.3,649.9 860.1,648.5 C861.9,647.2 864.8,645.2 865.7,644.5" fill="none" stroke="#000" stroke-width="2.3"/>
<text x="620.26" y="648.95" font-family='"Liberation Serif", serif' font-size="13.2" stroke="#000" stroke-width="0.3" textLength="20.69" lengthAdjust="spacingAndGlyphs">100</text>
<text x="627.16" y="674.24" font-family='"Liberation Serif", serif' font-size="13.2" stroke="#000" stroke-width="0.3" textLength="13.79" lengthAdjust="spacingAndGlyphs">50</text>
<text x="627.16" y="697.13" font-family='"Liberation Serif", serif' font-size="13.2" stroke="#000" stroke-width="0.3" textLength="13.79" lengthAdjust="spacingAndGlyphs">30</text>
<text x="627.16" y="741.15" font-family='"Liberation Serif", serif' font-size="13.2" stroke="#000" stroke-width="0.3" textLength="13.79" lengthAdjust="spacingAndGlyphs">10</text>
<text x="634.05" y="767.84" font-family='"Liberation Serif", serif' font-size="13.2" stroke="#000" stroke-width="0.3" textLength="6.90" lengthAdjust="spacingAndGlyphs">5</text>
<text x="634.05" y="788.73" font-family='"Liberation Serif", serif' font-size="13.2" stroke="#000" stroke-width="0.3" textLength="6.90" lengthAdjust="spacingAndGlyphs">3</text>
<text x="634.05" y="831.05" font-family='"Liberation Serif", serif' font-size="13.2" stroke="#000" stroke-width="0.3" textLength="6.90" lengthAdjust="spacingAndGlyphs">1</text>
<text x="623.71" y="859.24" font-family='"Liberation Serif", serif' font-size="13.2" stroke="#000" stroke-width="0.3" textLength="17.24" lengthAdjust="spacingAndGlyphs">0.5</text>
<text x="623.71" y="879.03" font-family='"Liberation Serif", serif' font-size="13.2" stroke="#000" stroke-width="0.3" textLength="17.24" lengthAdjust="spacingAndGlyphs">0.3</text>
<text x="623.71" y="919.35" font-family='"Liberation Serif", serif' font-size="13.2" stroke="#000" stroke-width="0.3" textLength="17.24" lengthAdjust="spacingAndGlyphs">0.1</text>
<text x="636.58" y="933.20" font-family='"Liberation Serif", serif' font-size="13.2" stroke="#000" stroke-width="0.3" textLength="17.24" lengthAdjust="spacingAndGlyphs">0.6</text>
<text x="691.33" y="933.20" font-family='"Liberation Serif", serif' font-size="13.2" stroke="#000" stroke-width="0.3" textLength="17.24" lengthAdjust="spacingAndGlyphs">0.8</text>
<text x="746.08" y="933.20" font-family='"Liberation Serif", serif' font-size="13.2" stroke="#000" stroke-width="0.3" textLength="17.24" lengthAdjust="spacingAndGlyphs">1.0</text>
<text x="800.83" y="933.20" font-family='"Liberation Serif", serif' font-size="13.2" stroke="#000" stroke-width="0.3" textLength="17.24" lengthAdjust="spacingAndGlyphs">1.2</text>
<text x="855.58" y="933.20" font-family='"Liberation Serif", serif' font-size="13.2" stroke="#000" stroke-width="0.3" textLength="17.24" lengthAdjust="spacingAndGlyphs">1.4</text>
<text x="910.33" y="933.20" font-family='"Liberation Serif", serif' font-size="13.2" stroke="#000" stroke-width="0.3" textLength="17.24" lengthAdjust="spacingAndGlyphs">1.6</text>
<text x="965.08" y="933.20" font-family='"Liberation Serif", serif' font-size="13.2" stroke="#000" stroke-width="0.3" textLength="17.24" lengthAdjust="spacingAndGlyphs">1.8</text>
<text x="773.45" y="633.70" font-family='"Liberation Serif", serif' font-size="16.6" stroke="#000" stroke-width="0.3" textLength="5.60" lengthAdjust="spacingAndGlyphs">I</text>
<text x="779.55" y="636.80" font-family='"Liberation Serif", serif' font-size="16.6" stroke="#000" stroke-width="0.3" textLength="10.30" lengthAdjust="spacingAndGlyphs">F</text>
<text x="798.17" y="636.42" font-family='"Liberation Serif", serif' font-size="16.6" stroke="#000" stroke-width="0.65" textLength="11.67" lengthAdjust="spacingAndGlyphs">−</text>
<text x="819.65" y="633.70" font-family='"Liberation Serif", serif' font-size="16.6" stroke="#000" stroke-width="0.3" textLength="10.90" lengthAdjust="spacingAndGlyphs">V</text>
<text x="830.45" y="636.80" font-family='"Liberation Serif", serif' font-size="16.6" stroke="#000" stroke-width="0.3" textLength="10.80" lengthAdjust="spacingAndGlyphs">F</text>
<text x="709.45" y="957.40" font-family='"Liberation Serif", serif' font-size="13.2" stroke="#000" stroke-width="0.3" style="word-spacing:3.00px" textLength="135.10" lengthAdjust="spacingAndGlyphs">FORWARD VOLTAGE</text>
<text x="858.85" y="957.40" font-family='"Liberation Serif", serif' font-size="13.2" stroke="#000" stroke-width="0.3" textLength="9.60" lengthAdjust="spacingAndGlyphs">V</text>
<text x="868.25" y="960.10" font-family='"Liberation Serif", serif' font-size="13.2" stroke="#000" stroke-width="0.3" textLength="8.50" lengthAdjust="spacingAndGlyphs">F</text>
<text x="889.45" y="957.40" font-family='"Liberation Serif", serif' font-size="13.2" stroke="#000" stroke-width="0.3" textLength="17.90" lengthAdjust="spacingAndGlyphs">(V)</text>
<text x="670.15" y="666.30" font-family='"Liberation Serif", serif' font-size="13.2" stroke="#000" stroke-width="0.3" textLength="54.20" lengthAdjust="spacingAndGlyphs">Ta = 25°C</text>
<text x="0.00" y="0" transform="translate(598.00,886.55) rotate(-90)" font-family='"Liberation Serif", serif' font-size="14.3" stroke="#000" stroke-width="0.75" style="word-spacing:3.00px" textLength="139.90" lengthAdjust="spacingAndGlyphs">FORWARD CURRENT</text>
<text x="0.00" y="0" transform="translate(598.00,733.60) rotate(-90)" font-family='"Liberation Serif", serif' font-size="14.3" stroke="#000" stroke-width="0.75" textLength="4.45" lengthAdjust="spacingAndGlyphs">I</text>
<text x="0.00" y="0" transform="translate(601.00,729.35) rotate(-90)" font-family='"Liberation Serif", serif' font-size="14.3" stroke="#000" stroke-width="0.75" textLength="9.70" lengthAdjust="spacingAndGlyphs">F</text>
<text x="0.00" y="0" transform="translate(598.00,706.85) rotate(-90)" font-family='"Liberation Serif", serif' font-size="14.3" stroke="#000" stroke-width="0.75" textLength="30.20" lengthAdjust="spacingAndGlyphs">(mA)</text>
<line x1="196.94" y1="1012.10" x2="196.94" y2="1285.20" stroke="#000" stroke-width="0.75"/>
<line x1="218.37" y1="1012.10" x2="218.37" y2="1285.20" stroke="#000" stroke-width="0.75"/>
<line x1="233.58" y1="1012.10" x2="233.58" y2="1285.20" stroke="#000" stroke-width="0.75"/>
<line x1="245.37" y1="1012.10" x2="245.37" y2="1285.20" stroke="#000" stroke-width="0.75"/>
<line x1="255.01" y1="1012.10" x2="255.01" y2="1285.20" stroke="#000" stroke-width="0.75"/>
<line x1="263.16" y1="1012.10" x2="263.16" y2="1285.20" stroke="#000" stroke-width="0.75"/>
<line x1="270.22" y1="1012.10" x2="270.22" y2="1285.20" stroke="#000" stroke-width="0.75"/>
<line x1="276.44" y1="1012.10" x2="276.44" y2="1285.20" stroke="#000" stroke-width="0.75"/>
<line x1="282.01" y1="1012.10" x2="282.01" y2="1285.20" stroke="#000" stroke-width="1.0"/>
<line x1="318.65" y1="1012.10" x2="318.65" y2="1285.20" stroke="#000" stroke-width="0.75"/>
<line x1="340.09" y1="1012.10" x2="340.09" y2="1285.20" stroke="#000" stroke-width="0.75"/>
<line x1="355.29" y1="1012.10" x2="355.29" y2="1285.20" stroke="#000" stroke-width="0.75"/>
<line x1="367.09" y1="1012.10" x2="367.09" y2="1285.20" stroke="#000" stroke-width="0.75"/>
<line x1="376.72" y1="1012.10" x2="376.72" y2="1285.20" stroke="#000" stroke-width="0.75"/>
<line x1="384.87" y1="1012.10" x2="384.87" y2="1285.20" stroke="#000" stroke-width="0.75"/>
<line x1="391.93" y1="1012.10" x2="391.93" y2="1285.20" stroke="#000" stroke-width="0.75"/>
<line x1="398.16" y1="1012.10" x2="398.16" y2="1285.20" stroke="#000" stroke-width="0.75"/>
<line x1="403.73" y1="1012.10" x2="403.73" y2="1285.20" stroke="#000" stroke-width="1.0"/>
<line x1="440.37" y1="1012.10" x2="440.37" y2="1285.20" stroke="#000" stroke-width="0.75"/>
<line x1="461.80" y1="1012.10" x2="461.80" y2="1285.20" stroke="#000" stroke-width="0.75"/>
<line x1="477.00" y1="1012.10" x2="477.00" y2="1285.20" stroke="#000" stroke-width="0.75"/>
<line x1="160.30" y1="1031.61" x2="488.80" y2="1031.61" stroke="#000" stroke-width="0.75"/>
<line x1="160.30" y1="1051.11" x2="488.80" y2="1051.11" stroke="#000" stroke-width="1.0"/>
<line x1="160.30" y1="1070.62" x2="488.80" y2="1070.62" stroke="#000" stroke-width="0.75"/>
<line x1="160.30" y1="1090.13" x2="488.80" y2="1090.13" stroke="#000" stroke-width="1.0"/>
<line x1="160.30" y1="1109.64" x2="488.80" y2="1109.64" stroke="#000" stroke-width="0.75"/>
<line x1="160.30" y1="1129.14" x2="488.80" y2="1129.14" stroke="#000" stroke-width="1.0"/>
<line x1="160.30" y1="1148.65" x2="488.80" y2="1148.65" stroke="#000" stroke-width="0.75"/>
<line x1="160.30" y1="1168.16" x2="488.80" y2="1168.16" stroke="#000" stroke-width="1.0"/>
<line x1="160.30" y1="1187.66" x2="488.80" y2="1187.66" stroke="#000" stroke-width="0.75"/>
<line x1="160.30" y1="1207.17" x2="488.80" y2="1207.17" stroke="#000" stroke-width="1.0"/>
<line x1="160.30" y1="1226.68" x2="488.80" y2="1226.68" stroke="#000" stroke-width="0.75"/>
<line x1="160.30" y1="1246.19" x2="488.80" y2="1246.19" stroke="#000" stroke-width="1.0"/>
<line x1="160.30" y1="1265.69" x2="488.80" y2="1265.69" stroke="#000" stroke-width="0.75"/>
<rect x="160.30" y="1012.10" width="328.50" height="273.10" fill="none" stroke="#000" stroke-width="1.5"/>
<path d="M160.4,1077.4 C161.4,1078.1 164.6,1080.1 166.7,1081.4 C168.8,1082.7 170.9,1084.0 173.0,1085.3 C175.1,1086.6 177.3,1087.9 179.4,1089.1 C181.5,1090.4 183.7,1091.6 185.8,1092.9 C188.0,1094.1 190.1,1095.3 192.3,1096.5 C194.5,1097.7 196.7,1098.8 198.8,1100.0 C201.0,1101.2 203.2,1102.3 205.4,1103.4 C207.6,1104.6 209.8,1105.7 212.0,1106.8 C214.2,1107.9 216.4,1109.0 218.6,1110.1 C220.9,1111.1 223.1,1112.2 225.3,1113.2 C227.6,1114.3 229.8,1115.3 232.0,1116.3 C234.3,1117.4 236.5,1118.4 238.8,1119.4 C241.0,1120.4 243.3,1121.3 245.6,1122.3 C247.8,1123.3 250.1,1124.2 252.4,1125.2 C254.7,1126.1 257.0,1127.0 259.3,1127.9 C261.5,1128.9 263.8,1129.8 266.1,1130.6 C268.4,1131.5 270.8,1132.4 273.1,1133.3 C275.4,1134.2 277.7,1135.0 280.0,1135.8 C282.3,1136.7 284.7,1137.5 287.0,1138.3 C289.3,1139.2 291.6,1140.0 294.0,1140.8 C296.3,1141.6 298.7,1142.4 301.0,1143.1 C303.4,1143.9 305.7,1144.7 308.1,1145.4 C310.4,1146.2 312.8,1146.9 315.1,1147.7 C317.5,1148.4 319.9,1149.1 322.2,1149.9 C324.6,1150.6 327.0,1151.3 329.3,1152.0 C331.7,1152.7 334.1,1153.4 336.5,1154.0 C338.9,1154.7 341.2,1155.4 343.6,1156.0 C346.0,1156.7 348.4,1157.4 350.8,1158.0 C353.2,1158.6 355.6,1159.3 358.0,1159.9 C360.4,1160.5 362.8,1161.2 365.2,1161.8 C367.6,1162.4 370.0,1163.0 372.4,1163.6 C374.8,1164.2 377.2,1164.8 379.6,1165.3 C382.0,1165.9 384.4,1166.5 386.9,1167.1 C389.3,1167.6 391.7,1168.2 394.1,1168.7 C396.5,1169.3 398.9,1169.8 401.4,1170.4 C403.8,1170.9 406.2,1171.4 408.6,1172.0 C411.0,1172.5 413.5,1173.0 415.9,1173.5 C418.3,1174.0 420.7,1174.6 423.2,1175.1 C425.6,1175.6 428.0,1176.1 430.4,1176.5 C432.9,1177.0 435.3,1177.5 437.7,1178.0 C440.1,1178.5 442.6,1179.0 445.0,1179.4 C447.4,1179.9 449.8,1180.4 452.3,1180.8 C454.7,1181.3 457.1,1181.8 459.5,1182.2 C462.0,1182.7 464.4,1183.1 466.8,1183.6 C469.2,1184.0 471.7,1184.5 474.1,1184.9 C476.5,1185.3 478.9,1185.8 481.3,1186.2 C483.8,1186.6 487.4,1187.3 488.6,1187.5" fill="none" stroke="#000" stroke-width="2.3"/>
<text x="128.90" y="1019.25" font-family='"Liberation Serif", serif' font-size="13.2" stroke="#000" stroke-width="0.55" textLength="9.72" lengthAdjust="spacingAndGlyphs">−</text>
<text x="139.61" y="1019.25" font-family='"Liberation Serif", serif' font-size="13.2" stroke="#000" stroke-width="0.3" textLength="17.24" lengthAdjust="spacingAndGlyphs">3.2</text>
<text x="128.90" y="1058.06" font-family='"Liberation Serif", serif' font-size="13.2" stroke="#000" stroke-width="0.55" textLength="9.72" lengthAdjust="spacingAndGlyphs">−</text>
<text x="139.61" y="1058.06" font-family='"Liberation Serif", serif' font-size="13.2" stroke="#000" stroke-width="0.3" textLength="17.24" lengthAdjust="spacingAndGlyphs">2.8</text>
<text x="128.90" y="1097.08" font-family='"Liberation Serif", serif' font-size="13.2" stroke="#000" stroke-width="0.55" textLength="9.72" lengthAdjust="spacingAndGlyphs">−</text>
<text x="139.61" y="1097.08" font-family='"Liberation Serif", serif' font-size="13.2" stroke="#000" stroke-width="0.3" textLength="17.24" lengthAdjust="spacingAndGlyphs">2.4</text>
<text x="128.90" y="1135.59" font-family='"Liberation Serif", serif' font-size="13.2" stroke="#000" stroke-width="0.55" textLength="9.72" lengthAdjust="spacingAndGlyphs">−</text>
<text x="139.61" y="1135.59" font-family='"Liberation Serif", serif' font-size="13.2" stroke="#000" stroke-width="0.3" textLength="17.24" lengthAdjust="spacingAndGlyphs">2.0</text>
<text x="128.90" y="1173.71" font-family='"Liberation Serif", serif' font-size="13.2" stroke="#000" stroke-width="0.55" textLength="9.72" lengthAdjust="spacingAndGlyphs">−</text>
<text x="139.61" y="1173.71" font-family='"Liberation Serif", serif' font-size="13.2" stroke="#000" stroke-width="0.3" textLength="17.24" lengthAdjust="spacingAndGlyphs">1.6</text>
<text x="128.90" y="1212.12" font-family='"Liberation Serif", serif' font-size="13.2" stroke="#000" stroke-width="0.55" textLength="9.72" lengthAdjust="spacingAndGlyphs">−</text>
<text x="139.61" y="1212.12" font-family='"Liberation Serif", serif' font-size="13.2" stroke="#000" stroke-width="0.3" textLength="17.24" lengthAdjust="spacingAndGlyphs">1.2</text>
<text x="128.90" y="1252.74" font-family='"Liberation Serif", serif' font-size="13.2" stroke="#000" stroke-width="0.55" textLength="9.72" lengthAdjust="spacingAndGlyphs">−</text>
<text x="139.61" y="1252.74" font-family='"Liberation Serif", serif' font-size="13.2" stroke="#000" stroke-width="0.3" textLength="17.24" lengthAdjust="spacingAndGlyphs">0.8</text>
<text x="128.90" y="1287.95" font-family='"Liberation Serif", serif' font-size="13.2" stroke="#000" stroke-width="0.55" textLength="9.72" lengthAdjust="spacingAndGlyphs">−</text>
<text x="139.61" y="1287.95" font-family='"Liberation Serif", serif' font-size="13.2" stroke="#000" stroke-width="0.3" textLength="17.24" lengthAdjust="spacingAndGlyphs">0.4</text>
<text x="151.38" y="1300.40" font-family='"Liberation Serif", serif' font-size="13.2" stroke="#000" stroke-width="0.3" textLength="17.24" lengthAdjust="spacingAndGlyphs">0.1</text>
<text x="209.45" y="1300.40" font-family='"Liberation Serif", serif' font-size="13.2" stroke="#000" stroke-width="0.3" textLength="17.24" lengthAdjust="spacingAndGlyphs">0.3</text>
<text x="236.45" y="1300.40" font-family='"Liberation Serif", serif' font-size="13.2" stroke="#000" stroke-width="0.3" textLength="17.24" lengthAdjust="spacingAndGlyphs">0.5</text>
<text x="278.26" y="1300.40" font-family='"Liberation Serif", serif' font-size="13.2" stroke="#000" stroke-width="0.3" textLength="6.90" lengthAdjust="spacingAndGlyphs">1</text>
<text x="336.34" y="1300.40" font-family='"Liberation Serif", serif' font-size="13.2" stroke="#000" stroke-width="0.3" textLength="6.90" lengthAdjust="spacingAndGlyphs">3</text>
<text x="363.34" y="1300.40" font-family='"Liberation Serif", serif' font-size="13.2" stroke="#000" stroke-width="0.3" textLength="6.90" lengthAdjust="spacingAndGlyphs">5</text>
<text x="396.53" y="1300.40" font-family='"Liberation Serif", serif' font-size="13.2" stroke="#000" stroke-width="0.3" textLength="13.79" lengthAdjust="spacingAndGlyphs">10</text>
<text x="454.60" y="1300.40" font-family='"Liberation Serif", serif' font-size="13.2" stroke="#000" stroke-width="0.3" textLength="13.79" lengthAdjust="spacingAndGlyphs">30</text>
<text x="481.60" y="1300.40" font-family='"Liberation Serif", serif' font-size="13.2" stroke="#000" stroke-width="0.3" textLength="13.79" lengthAdjust="spacingAndGlyphs">50</text>
<text x="262.65" y="1001.20" font-family='"Liberation Serif", serif' font-size="16.6" font-style="italic" stroke="#000" stroke-width="0.3" textLength="11.70" lengthAdjust="spacingAndGlyphs">Δ</text>
<text x="274.45" y="1001.20" font-family='"Liberation Serif", serif' font-size="16.6" stroke="#000" stroke-width="0.3" textLength="12.00" lengthAdjust="spacingAndGlyphs">V</text>
<text x="286.75" y="1003.80" font-family='"Liberation Serif", serif' font-size="16.6" stroke="#000" stroke-width="0.3" textLength="10.30" lengthAdjust="spacingAndGlyphs">F</text>
<text x="299.15" y="1001.20" font-family='"Liberation Serif", serif' font-size="16.6" stroke="#000" stroke-width="0.3" textLength="5.70" lengthAdjust="spacingAndGlyphs">/</text>
<text x="306.95" y="1001.20" font-family='"Liberation Serif", serif' font-size="16.6" font-style="italic" stroke="#000" stroke-width="0.3" textLength="12.00" lengthAdjust="spacingAndGlyphs">Δ</text>
<text x="318.95" y="1001.20" font-family='"Liberation Serif", serif' font-size="16.6" stroke="#000" stroke-width="0.3" textLength="18.00" lengthAdjust="spacingAndGlyphs">Ta</text>
<text x="345.76" y="1003.22" font-family='"Liberation Serif", serif' font-size="16.6" stroke="#000" stroke-width="0.65" textLength="12.88" lengthAdjust="spacingAndGlyphs">−</text>
<text x="367.05" y="1001.20" font-family='"Liberation Serif", serif' font-size="16.6" stroke="#000" stroke-width="0.3" textLength="5.20" lengthAdjust="spacingAndGlyphs">I</text>
<text x="372.75" y="1003.80" font-family='"Liberation Serif", serif' font-size="16.6" stroke="#000" stroke-width="0.3" textLength="10.60" lengthAdjust="spacingAndGlyphs">F</text>
<text x="221.85" y="1325.10" font-family='"Liberation Serif", serif' font-size="13.2" stroke="#000" stroke-width="0.3" style="word-spacing:3.00px" textLength="136.50" lengthAdjust="spacingAndGlyphs">FORWARD CURRENT</text>
<text x="372.15" y="1325.10" font-family='"Liberation Serif", serif' font-size="13.2" stroke="#000" stroke-width="0.3" textLength="4.40" lengthAdjust="spacingAndGlyphs">I</text>
<text x="376.75" y="1327.70" font-family='"Liberation Serif", serif' font-size="13.2" stroke="#000" stroke-width="0.3" textLength="8.70" lengthAdjust="spacingAndGlyphs">F</text>
<text x="398.35" y="1325.10" font-family='"Liberation Serif", serif' font-size="13.2" stroke="#000" stroke-width="0.3" textLength="29.30" lengthAdjust="spacingAndGlyphs">(mA)</text>
<text x="0.00" y="0" transform="translate(106.70,1272.15) rotate(-90)" font-family='"Liberation Serif", serif' font-size="14.3" stroke="#000" stroke-width="0.75" style="word-spacing:3.00px" textLength="242.20" lengthAdjust="spacingAndGlyphs">FORWARD VOLTAGE TEMPERATURE</text>
<text x="0.00" y="0" transform="translate(118.50,1264.45) rotate(-90)" font-family='"Liberation Serif", serif' font-size="12.2" stroke="#000" stroke-width="0.75" textLength="90.10" lengthAdjust="spacingAndGlyphs">COEFFICIENT</text>
<text x="0.00" y="0" transform="translate(118.50,1161.25) rotate(-90)" font-family='"Liberation Serif", serif' font-size="12.2" font-style="italic" stroke="#000" stroke-width="0.75" textLength="10.60" lengthAdjust="spacingAndGlyphs">Δ</text>
<text x="0.00" y="0" transform="translate(118.50,1150.95) rotate(-90)" font-family='"Liberation Serif", serif' font-size="12.2" stroke="#000" stroke-width="0.75" textLength="17.30" lengthAdjust="spacingAndGlyphs">VF</text>
<text x="0.00" y="0" transform="translate(118.50,1133.05) rotate(-90)" font-family='"Liberation Serif", serif' font-size="12.2" stroke="#000" stroke-width="0.75" textLength="7.00" lengthAdjust="spacingAndGlyphs">/</text>
<text x="0.00" y="0" transform="translate(118.50,1126.15) rotate(-90)" font-family='"Liberation Serif", serif' font-size="12.2" font-style="italic" stroke="#000" stroke-width="0.75" textLength="10.00" lengthAdjust="spacingAndGlyphs">Δ</text>
<text x="0.00" y="0" transform="translate(118.50,1113.75) rotate(-90)" font-family='"Liberation Serif", serif' font-size="12.2" stroke="#000" stroke-width="0.75" textLength="13.10" lengthAdjust="spacingAndGlyphs">Ta</text>
<text x="0.00" y="0" transform="translate(118.50,1087.95) rotate(-90)" font-family='"Liberation Serif", serif' font-size="12.2" stroke="#000" stroke-width="0.75" textLength="51.10" lengthAdjust="spacingAndGlyphs">(mV / °C)</text>
<line x1="671.38" y1="1012.10" x2="671.38" y2="1285.20" stroke="#000" stroke-width="0.75"/>
<line x1="698.75" y1="1012.10" x2="698.75" y2="1285.20" stroke="#000" stroke-width="1.0"/>
<line x1="726.12" y1="1012.10" x2="726.12" y2="1285.20" stroke="#000" stroke-width="0.75"/>
<line x1="753.50" y1="1012.10" x2="753.50" y2="1285.20" stroke="#000" stroke-width="1.0"/>
<line x1="780.88" y1="1012.10" x2="780.88" y2="1194.17" stroke="#000" stroke-width="0.75"/>
<line x1="808.25" y1="1012.10" x2="808.25" y2="1194.17" stroke="#000" stroke-width="1.0"/>
<line x1="835.62" y1="1012.10" x2="835.62" y2="1194.17" stroke="#000" stroke-width="0.75"/>
<line x1="863.00" y1="1012.10" x2="863.00" y2="1194.17" stroke="#000" stroke-width="1.0"/>
<line x1="890.38" y1="1012.10" x2="890.38" y2="1194.17" stroke="#000" stroke-width="0.75"/>
<line x1="917.75" y1="1012.10" x2="917.75" y2="1194.17" stroke="#000" stroke-width="1.0"/>
<line x1="945.12" y1="1012.10" x2="945.12" y2="1194.17" stroke="#000" stroke-width="0.75"/>
<line x1="644.00" y1="1257.80" x2="753.50" y2="1257.80" stroke="#000" stroke-width="0.75"/>
<line x1="644.00" y1="1241.77" x2="753.50" y2="1241.77" stroke="#000" stroke-width="0.75"/>
<line x1="644.00" y1="1230.39" x2="753.50" y2="1230.39" stroke="#000" stroke-width="0.75"/>
<line x1="644.00" y1="1221.57" x2="753.50" y2="1221.57" stroke="#000" stroke-width="0.75"/>
<line x1="644.00" y1="1214.36" x2="753.50" y2="1214.36" stroke="#000" stroke-width="0.75"/>
<line x1="644.00" y1="1208.27" x2="753.50" y2="1208.27" stroke="#000" stroke-width="0.75"/>
<line x1="644.00" y1="1202.99" x2="753.50" y2="1202.99" stroke="#000" stroke-width="0.75"/>
<line x1="644.00" y1="1198.33" x2="753.50" y2="1198.33" stroke="#000" stroke-width="0.75"/>
<line x1="644.00" y1="1194.17" x2="972.50" y2="1194.17" stroke="#000" stroke-width="1.0"/>
<line x1="644.00" y1="1166.76" x2="972.50" y2="1166.76" stroke="#000" stroke-width="0.75"/>
<line x1="644.00" y1="1150.73" x2="972.50" y2="1150.73" stroke="#000" stroke-width="0.75"/>
<line x1="644.00" y1="1139.36" x2="972.50" y2="1139.36" stroke="#000" stroke-width="0.75"/>
<line x1="644.00" y1="1130.54" x2="972.50" y2="1130.54" stroke="#000" stroke-width="0.75"/>
<line x1="644.00" y1="1123.33" x2="972.50" y2="1123.33" stroke="#000" stroke-width="0.75"/>
<line x1="644.00" y1="1117.23" x2="972.50" y2="1117.23" stroke="#000" stroke-width="0.75"/>
<line x1="644.00" y1="1111.96" x2="972.50" y2="1111.96" stroke="#000" stroke-width="0.75"/>
<line x1="644.00" y1="1107.30" x2="972.50" y2="1107.30" stroke="#000" stroke-width="0.75"/>
<line x1="644.00" y1="1103.13" x2="972.50" y2="1103.13" stroke="#000" stroke-width="1.0"/>
<line x1="644.00" y1="1075.73" x2="972.50" y2="1075.73" stroke="#000" stroke-width="0.75"/>
<line x1="644.00" y1="1059.70" x2="972.50" y2="1059.70" stroke="#000" stroke-width="0.75"/>
<line x1="644.00" y1="1048.33" x2="972.50" y2="1048.33" stroke="#000" stroke-width="0.75"/>
<line x1="642.70" y1="1039.50" x2="972.50" y2="1039.50" stroke="#000" stroke-width="0.75"/>
<line x1="642.70" y1="1032.30" x2="972.50" y2="1032.30" stroke="#000" stroke-width="0.75"/>
<line x1="642.70" y1="1026.20" x2="972.50" y2="1026.20" stroke="#000" stroke-width="0.75"/>
<line x1="642.70" y1="1020.92" x2="972.50" y2="1020.92" stroke="#000" stroke-width="0.75"/>
<line x1="642.70" y1="1016.27" x2="972.50" y2="1016.27" stroke="#000" stroke-width="0.75"/>
<rect x="644.00" y="1012.10" width="328.50" height="273.10" fill="none" stroke="#000" stroke-width="1.5"/>
<path d="M698.4,1284.8 C698.6,1283.7 699.3,1280.5 699.8,1278.3 C700.2,1276.2 700.7,1274.0 701.1,1271.8 C701.6,1269.6 702.0,1267.4 702.4,1265.2 C702.8,1263.1 703.3,1260.8 703.7,1258.6 C704.1,1256.4 704.5,1254.2 704.9,1252.0 C705.4,1249.8 705.8,1247.5 706.2,1245.3 C706.6,1243.1 707.0,1240.8 707.4,1238.6 C707.9,1236.4 708.3,1234.1 708.7,1231.9 C709.2,1229.7 709.6,1227.4 710.0,1225.2 C710.5,1223.0 710.9,1220.7 711.4,1218.5 C711.9,1216.3 712.3,1214.0 712.8,1211.8 C713.3,1209.6 713.8,1207.4 714.3,1205.1 C714.8,1202.9 715.4,1200.7 715.9,1198.5 C716.4,1196.3 717.0,1194.1 717.6,1191.9 C718.2,1189.7 718.7,1187.5 719.4,1185.3 C720.0,1183.2 720.6,1181.0 721.3,1178.8 C721.9,1176.7 722.6,1174.5 723.3,1172.4 C724.0,1170.3 724.7,1168.1 725.5,1166.0 C726.2,1163.9 727.0,1161.8 727.8,1159.7 C728.6,1157.7 729.5,1155.6 730.3,1153.5 C731.2,1151.5 732.1,1149.4 733.0,1147.4 C733.9,1145.4 734.9,1143.4 735.9,1141.4 C736.9,1139.4 737.9,1137.5 739.0,1135.5 C740.0,1133.6 741.1,1131.6 742.3,1129.7 C743.4,1127.8 744.6,1125.9 745.7,1124.0 C746.9,1122.2 748.2,1120.3 749.4,1118.5 C750.7,1116.6 752.0,1114.8 753.3,1113.0 C754.6,1111.2 755.9,1109.4 757.3,1107.7 C758.6,1105.9 760.0,1104.1 761.5,1102.4 C762.9,1100.7 764.3,1099.0 765.8,1097.3 C767.3,1095.6 768.7,1093.9 770.3,1092.2 C771.8,1090.6 773.3,1088.9 774.9,1087.3 C776.4,1085.7 778.0,1084.1 779.6,1082.5 C781.2,1080.9 782.8,1079.3 784.5,1077.8 C786.1,1076.2 787.8,1074.7 789.5,1073.1 C791.1,1071.6 792.8,1070.1 794.5,1068.6 C796.3,1067.1 798.0,1065.7 799.7,1064.2 C801.5,1062.8 803.2,1061.3 805.0,1059.9 C806.8,1058.5 808.6,1057.1 810.4,1055.7 C812.2,1054.3 814.0,1052.9 815.8,1051.6 C817.6,1050.2 819.4,1048.9 821.3,1047.5 C823.1,1046.2 825.0,1044.9 826.8,1043.6 C828.7,1042.3 830.6,1041.0 832.4,1039.8 C834.3,1038.5 836.2,1037.3 838.1,1036.0 C840.0,1034.8 841.9,1033.6 843.8,1032.4 C845.7,1031.2 847.6,1030.0 849.5,1028.9 C851.4,1027.7 854.3,1026.0 855.2,1025.4" fill="none" stroke="#000" stroke-width="2.3"/>
<text x="613.46" y="1016.75" font-family='"Liberation Serif", serif' font-size="13.2" stroke="#000" stroke-width="0.3" textLength="27.59" lengthAdjust="spacingAndGlyphs">1000</text>
<text x="620.36" y="1044.65" font-family='"Liberation Serif", serif' font-size="13.2" stroke="#000" stroke-width="0.3" textLength="20.69" lengthAdjust="spacingAndGlyphs">500</text>
<text x="620.36" y="1065.95" font-family='"Liberation Serif", serif' font-size="13.2" stroke="#000" stroke-width="0.3" textLength="20.69" lengthAdjust="spacingAndGlyphs">300</text>
<text x="620.36" y="1108.68" font-family='"Liberation Serif", serif' font-size="13.2" stroke="#000" stroke-width="0.3" textLength="20.69" lengthAdjust="spacingAndGlyphs">100</text>
<text x="627.26" y="1136.39" font-family='"Liberation Serif", serif' font-size="13.2" stroke="#000" stroke-width="0.3" textLength="13.79" lengthAdjust="spacingAndGlyphs">50</text>
<text x="627.26" y="1156.48" font-family='"Liberation Serif", serif' font-size="13.2" stroke="#000" stroke-width="0.3" textLength="13.79" lengthAdjust="spacingAndGlyphs">30</text>
<text x="627.26" y="1199.42" font-family='"Liberation Serif", serif' font-size="13.2" stroke="#000" stroke-width="0.3" textLength="13.79" lengthAdjust="spacingAndGlyphs">10</text>
<text x="634.15" y="1227.32" font-family='"Liberation Serif", serif' font-size="13.2" stroke="#000" stroke-width="0.3" textLength="6.90" lengthAdjust="spacingAndGlyphs">5</text>
<text x="634.15" y="1247.82" font-family='"Liberation Serif", serif' font-size="13.2" stroke="#000" stroke-width="0.3" textLength="6.90" lengthAdjust="spacingAndGlyphs">3</text>
<text x="634.15" y="1288.15" font-family='"Liberation Serif", serif' font-size="13.2" stroke="#000" stroke-width="0.3" textLength="6.90" lengthAdjust="spacingAndGlyphs">1</text>
<text x="636.58" y="1300.70" font-family='"Liberation Serif", serif' font-size="13.2" stroke="#000" stroke-width="0.3" textLength="17.24" lengthAdjust="spacingAndGlyphs">0.6</text>
<text x="691.33" y="1300.70" font-family='"Liberation Serif", serif' font-size="13.2" stroke="#000" stroke-width="0.3" textLength="17.24" lengthAdjust="spacingAndGlyphs">1.0</text>
<text x="746.08" y="1300.70" font-family='"Liberation Serif", serif' font-size="13.2" stroke="#000" stroke-width="0.3" textLength="17.24" lengthAdjust="spacingAndGlyphs">1.4</text>
<text x="800.83" y="1300.70" font-family='"Liberation Serif", serif' font-size="13.2" stroke="#000" stroke-width="0.3" textLength="17.24" lengthAdjust="spacingAndGlyphs">1.8</text>
<text x="855.58" y="1300.70" font-family='"Liberation Serif", serif' font-size="13.2" stroke="#000" stroke-width="0.3" textLength="17.24" lengthAdjust="spacingAndGlyphs">2.2</text>
<text x="910.33" y="1300.70" font-family='"Liberation Serif", serif' font-size="13.2" stroke="#000" stroke-width="0.3" textLength="17.24" lengthAdjust="spacingAndGlyphs">2.6</text>
<text x="965.08" y="1300.70" font-family='"Liberation Serif", serif' font-size="13.2" stroke="#000" stroke-width="0.3" textLength="17.24" lengthAdjust="spacingAndGlyphs">3.0</text>
<text x="762.95" y="1001.20" font-family='"Liberation Serif", serif' font-size="16.6" stroke="#000" stroke-width="0.3" textLength="5.30" lengthAdjust="spacingAndGlyphs">I</text>
<text x="768.65" y="1003.80" font-family='"Liberation Serif", serif' font-size="16.6" stroke="#000" stroke-width="0.3" textLength="21.20" lengthAdjust="spacingAndGlyphs">FP</text>
<text x="797.56" y="1003.22" font-family='"Liberation Serif", serif' font-size="16.6" stroke="#000" stroke-width="0.65" textLength="12.88" lengthAdjust="spacingAndGlyphs">−</text>
<text x="818.85" y="1001.20" font-family='"Liberation Serif", serif' font-size="16.6" stroke="#000" stroke-width="0.3" textLength="12.00" lengthAdjust="spacingAndGlyphs">V</text>
<text x="830.85" y="1003.80" font-family='"Liberation Serif", serif' font-size="16.6" stroke="#000" stroke-width="0.3" textLength="21.30" lengthAdjust="spacingAndGlyphs">FP</text>
<text x="680.65" y="1325.10" font-family='"Liberation Serif", serif' font-size="13.2" stroke="#000" stroke-width="0.3" style="word-spacing:3.00px" textLength="183.70" lengthAdjust="spacingAndGlyphs">PULSE FORWARD VOLTAGE</text>
<text x="879.25" y="1325.10" font-family='"Liberation Serif", serif' font-size="13.2" stroke="#000" stroke-width="0.3" textLength="9.50" lengthAdjust="spacingAndGlyphs">V</text>
<text x="888.65" y="1327.70" font-family='"Liberation Serif", serif' font-size="13.2" stroke="#000" stroke-width="0.3" textLength="16.00" lengthAdjust="spacingAndGlyphs">FP</text>
<text x="917.75" y="1325.10" font-family='"Liberation Serif", serif' font-size="13.2" stroke="#000" stroke-width="0.3" textLength="17.90" lengthAdjust="spacingAndGlyphs">(V)</text>
<text x="770.10" y="1215.10" font-family='"Liberation Serif", serif' font-size="13.2" stroke="#000" stroke-width="0.3" style="word-spacing:3.00px" textLength="95.48" lengthAdjust="spacingAndGlyphs">PULSE WIDTH</text>
<text x="866.58" y="1215.10" font-family='"Liberation Serif", serif' font-size="13.2" stroke="#000" stroke-width="0.15" textLength="9.47" lengthAdjust="spacingAndGlyphs">≦</text>
<text x="877.44" y="1215.10" font-family='"Liberation Serif", serif' font-size="13.2" stroke="#000" stroke-width="0.3" textLength="14.28" lengthAdjust="spacingAndGlyphs">10</text>
<text x="892.43" y="1215.10" font-family='"Liberation Serif", serif' font-size="13.2" font-style="italic" stroke="#000" stroke-width="0.3" textLength="7.17" lengthAdjust="spacingAndGlyphs">μ</text>
<text x="899.60" y="1215.10" font-family='"Liberation Serif", serif' font-size="13.2" stroke="#000" stroke-width="0.3" textLength="5.60" lengthAdjust="spacingAndGlyphs">s</text>
<text x="769.95" y="1235.30" font-family='"Liberation Serif", serif' font-size="13.2" stroke="#000" stroke-width="0.3" style="word-spacing:3.00px" textLength="168.20" lengthAdjust="spacingAndGlyphs">REPETITIVE FREQUENCY</text>
<text x="771.15" y="1255.50" font-family='"Liberation Serif", serif' font-size="13.2" stroke="#000" stroke-width="0.3" textLength="48.10" lengthAdjust="spacingAndGlyphs">= 100Hz</text>
<text x="769.95" y="1275.60" font-family='"Liberation Serif", serif' font-size="13.2" stroke="#000" stroke-width="0.3" textLength="54.60" lengthAdjust="spacingAndGlyphs">Ta = 25°C</text>
<text x="0.00" y="0" transform="translate(600.30,1280.65) rotate(-90)" font-family='"Liberation Serif", serif' font-size="14.3" stroke="#000" stroke-width="0.75" style="word-spacing:3.00px" textLength="188.60" lengthAdjust="spacingAndGlyphs">PULSE FORWARD CURRENT</text>
<text x="0.00" y="0" transform="translate(600.30,1079.25) rotate(-90)" font-family='"Liberation Serif", serif' font-size="14.3" stroke="#000" stroke-width="0.75" textLength="4.90" lengthAdjust="spacingAndGlyphs">I</text>
<text x="0.00" y="0" transform="translate(603.40,1074.25) rotate(-90)" font-family='"Liberation Serif", serif' font-size="14.3" stroke="#000" stroke-width="0.75" textLength="17.90" lengthAdjust="spacingAndGlyphs">FP</text>
<text x="0.00" y="0" transform="translate(600.30,1044.15) rotate(-90)" font-family='"Liberation Serif", serif' font-size="14.3" stroke="#000" stroke-width="0.75" textLength="29.70" lengthAdjust="spacingAndGlyphs">(mA)</text>
</svg></body></html>
